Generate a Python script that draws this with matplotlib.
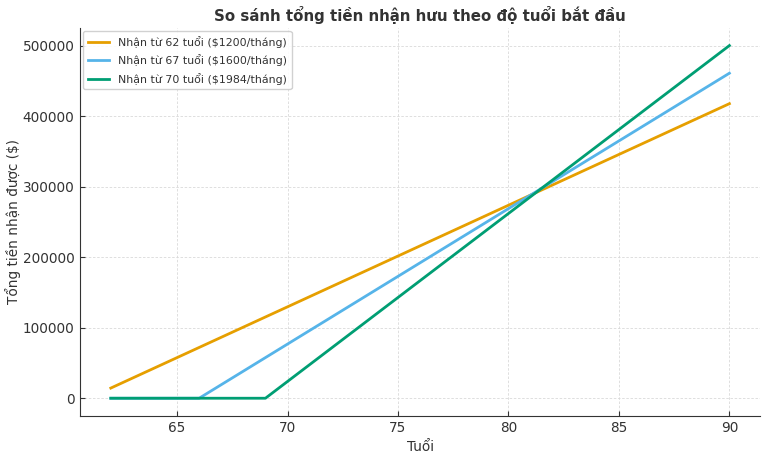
import matplotlib.pyplot as plt

# Ages and cumulative totals received ($)
ages = list(range(62, 91))

total_62 = [14400, 28800, 43200, 57600, 72000, 86400, 100800, 115200, 129600,
            144000, 158400, 172800, 187200, 201600, 216000, 230400, 244800,
            259200, 273600, 288000, 302400, 316800, 331200, 345600, 360000,
            374400, 388800, 403200, 417600]

total_67 = [0, 0, 0, 0, 0,
            19200, 38400, 57600, 76800, 96000, 115200, 134400, 153600, 172800,
            192000, 211200, 230400, 249600, 268800, 288000, 307200, 326400,
            345600, 364800, 384000, 403200, 422400, 441600, 460800]

total_70 = [0, 0, 0, 0, 0, 0, 0, 0,
            23808, 47616, 71424, 95232, 119040, 142848, 166656, 190464, 214272,
            238080, 261888, 285696, 309504, 333312, 357120, 380928, 404736,
            428544, 452352, 476160, 499968]

labels = ['Nhận từ 62 tuổi ($1200/tháng)',
          'Nhận từ 67 tuổi ($1600/tháng)',
          'Nhận từ 70 tuổi ($1984/tháng)']
colors = ['#E69F00', '#56B4E9', '#009E73']

text_color = '#333333'
plt.rcParams['font.family'] = ['DejaVu Sans']
plt.rcParams['text.color'] = text_color
plt.rcParams['axes.labelcolor'] = text_color
plt.rcParams['xtick.color'] = text_color
plt.rcParams['ytick.color'] = text_color

fig, ax = plt.subplots(figsize=(7.68, 4.58), dpi=100)
fig.subplots_adjust(left=0.104, right=0.99, top=0.939, bottom=0.092)

for series, label, color in zip([total_62, total_67, total_70], labels, colors):
    ax.plot(ages, series, color=color, linewidth=2, label=label)

ax.set_title('So sánh tổng tiền nhận hưu theo độ tuổi bắt đầu',
             fontsize=10.8, fontweight='bold', pad=5)
ax.set_xlabel('Tuổi', fontsize=9.8, labelpad=3)
ax.set_ylabel('Tổng tiền nhận được ($)', fontsize=9.8, labelpad=1)

ax.grid(True, linestyle=(0, (3, 2)), color='#d9d9d9', linewidth=0.6)
ax.spines['top'].set_visible(False)
ax.spines['right'].set_visible(False)
ax.spines['left'].set_color(text_color)
ax.spines['bottom'].set_color(text_color)
ax.tick_params(direction='in', labelsize=9.8, pad=4)

ax.legend(loc='upper left', fontsize=7.9, framealpha=0.9, edgecolor='#cccccc',
          borderaxespad=0.3, labelspacing=0.6)

plt.savefig('out.png', dpi=100)
